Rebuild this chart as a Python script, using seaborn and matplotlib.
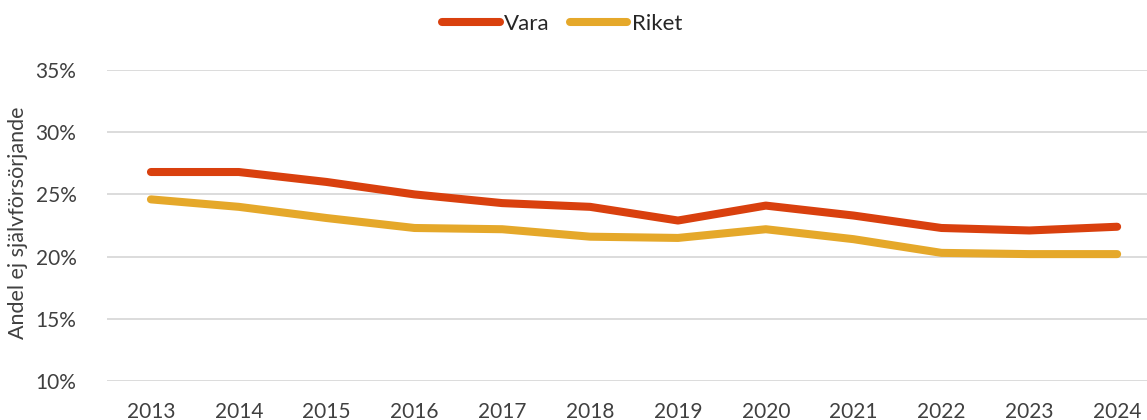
import matplotlib
matplotlib.use("Agg")
import matplotlib.pyplot as plt
from matplotlib.ticker import PercentFormatter
import pandas as pd
import seaborn as sns

years = [2013, 2014, 2015, 2016, 2017, 2018, 2019, 2020, 2021, 2022, 2023, 2024]
vara = [26.8, 26.8, 26.0, 25.0, 24.3, 24.0, 22.9, 24.1, 23.3, 22.3, 22.1, 22.4]
riket = [24.6, 24.0, 23.1, 22.3, 22.2, 21.6, 21.5, 22.2, 21.4, 20.3, 20.2, 20.2]
series_names = ["Vara", "Riket"]
colors = ["#D9400E", "#E5A82A"]
y_label = "Andel ej självförsörjande"

df = pd.DataFrame({
    "År": years * 2,
    "Andel": vara + riket,
    "Område": [series_names[0]] * len(years) + [series_names[1]] * len(years),
})

sns.set_theme(style="white")
plt.rcParams["font.family"] = ["Lato", "DejaVu Sans"]

fig = plt.figure(figsize=(11.47, 4.2), dpi=100)
ax = fig.add_axes([0.0933, 0.0929, 0.9067, 0.7404])

sns.lineplot(data=df, x="År", y="Andel", hue="Område",
             palette=dict(zip(series_names, colors)),
             linewidth=5.8, ax=ax, legend=False)
for line in ax.get_lines():
    line.set_solid_capstyle("round")
    line.set_solid_joinstyle("round")

ax.set_xlim(2012.5, 2024.34)
ax.set_ylim(10, 35)
ax.set_yticks([10, 15, 20, 25, 30, 35])
ax.yaxis.set_major_formatter(PercentFormatter(decimals=0))
ax.set_xticks(years)
ax.set_xticklabels([str(y) for y in years])
ax.grid(axis="y", color="#D9D9D9", linewidth=1.3)
ax.set_axisbelow(True)
for s in ax.spines.values():
    s.set_visible(False)
ax.tick_params(axis="both", length=0, labelsize=15, labelcolor="#404040")
ax.tick_params(axis="x", pad=15)
ax.tick_params(axis="y", pad=22)
ax.set_xlabel("")
ax.set_ylabel(y_label, fontsize=15.5, color="#404040")
ax.yaxis.set_label_coords(-0.076, 0.51)

handles = [plt.Line2D([], [], color=c, linewidth=5.8, solid_capstyle="round") for c in colors]
fig.legend(handles, series_names, loc="center", bbox_to_anchor=(0.490, 0.943),
           ncol=2, frameon=False, fontsize=16, handlelength=2.6,
           handletextpad=0.2, columnspacing=0.9, labelcolor="#262626")

fig.savefig("out.png", dpi=100)
